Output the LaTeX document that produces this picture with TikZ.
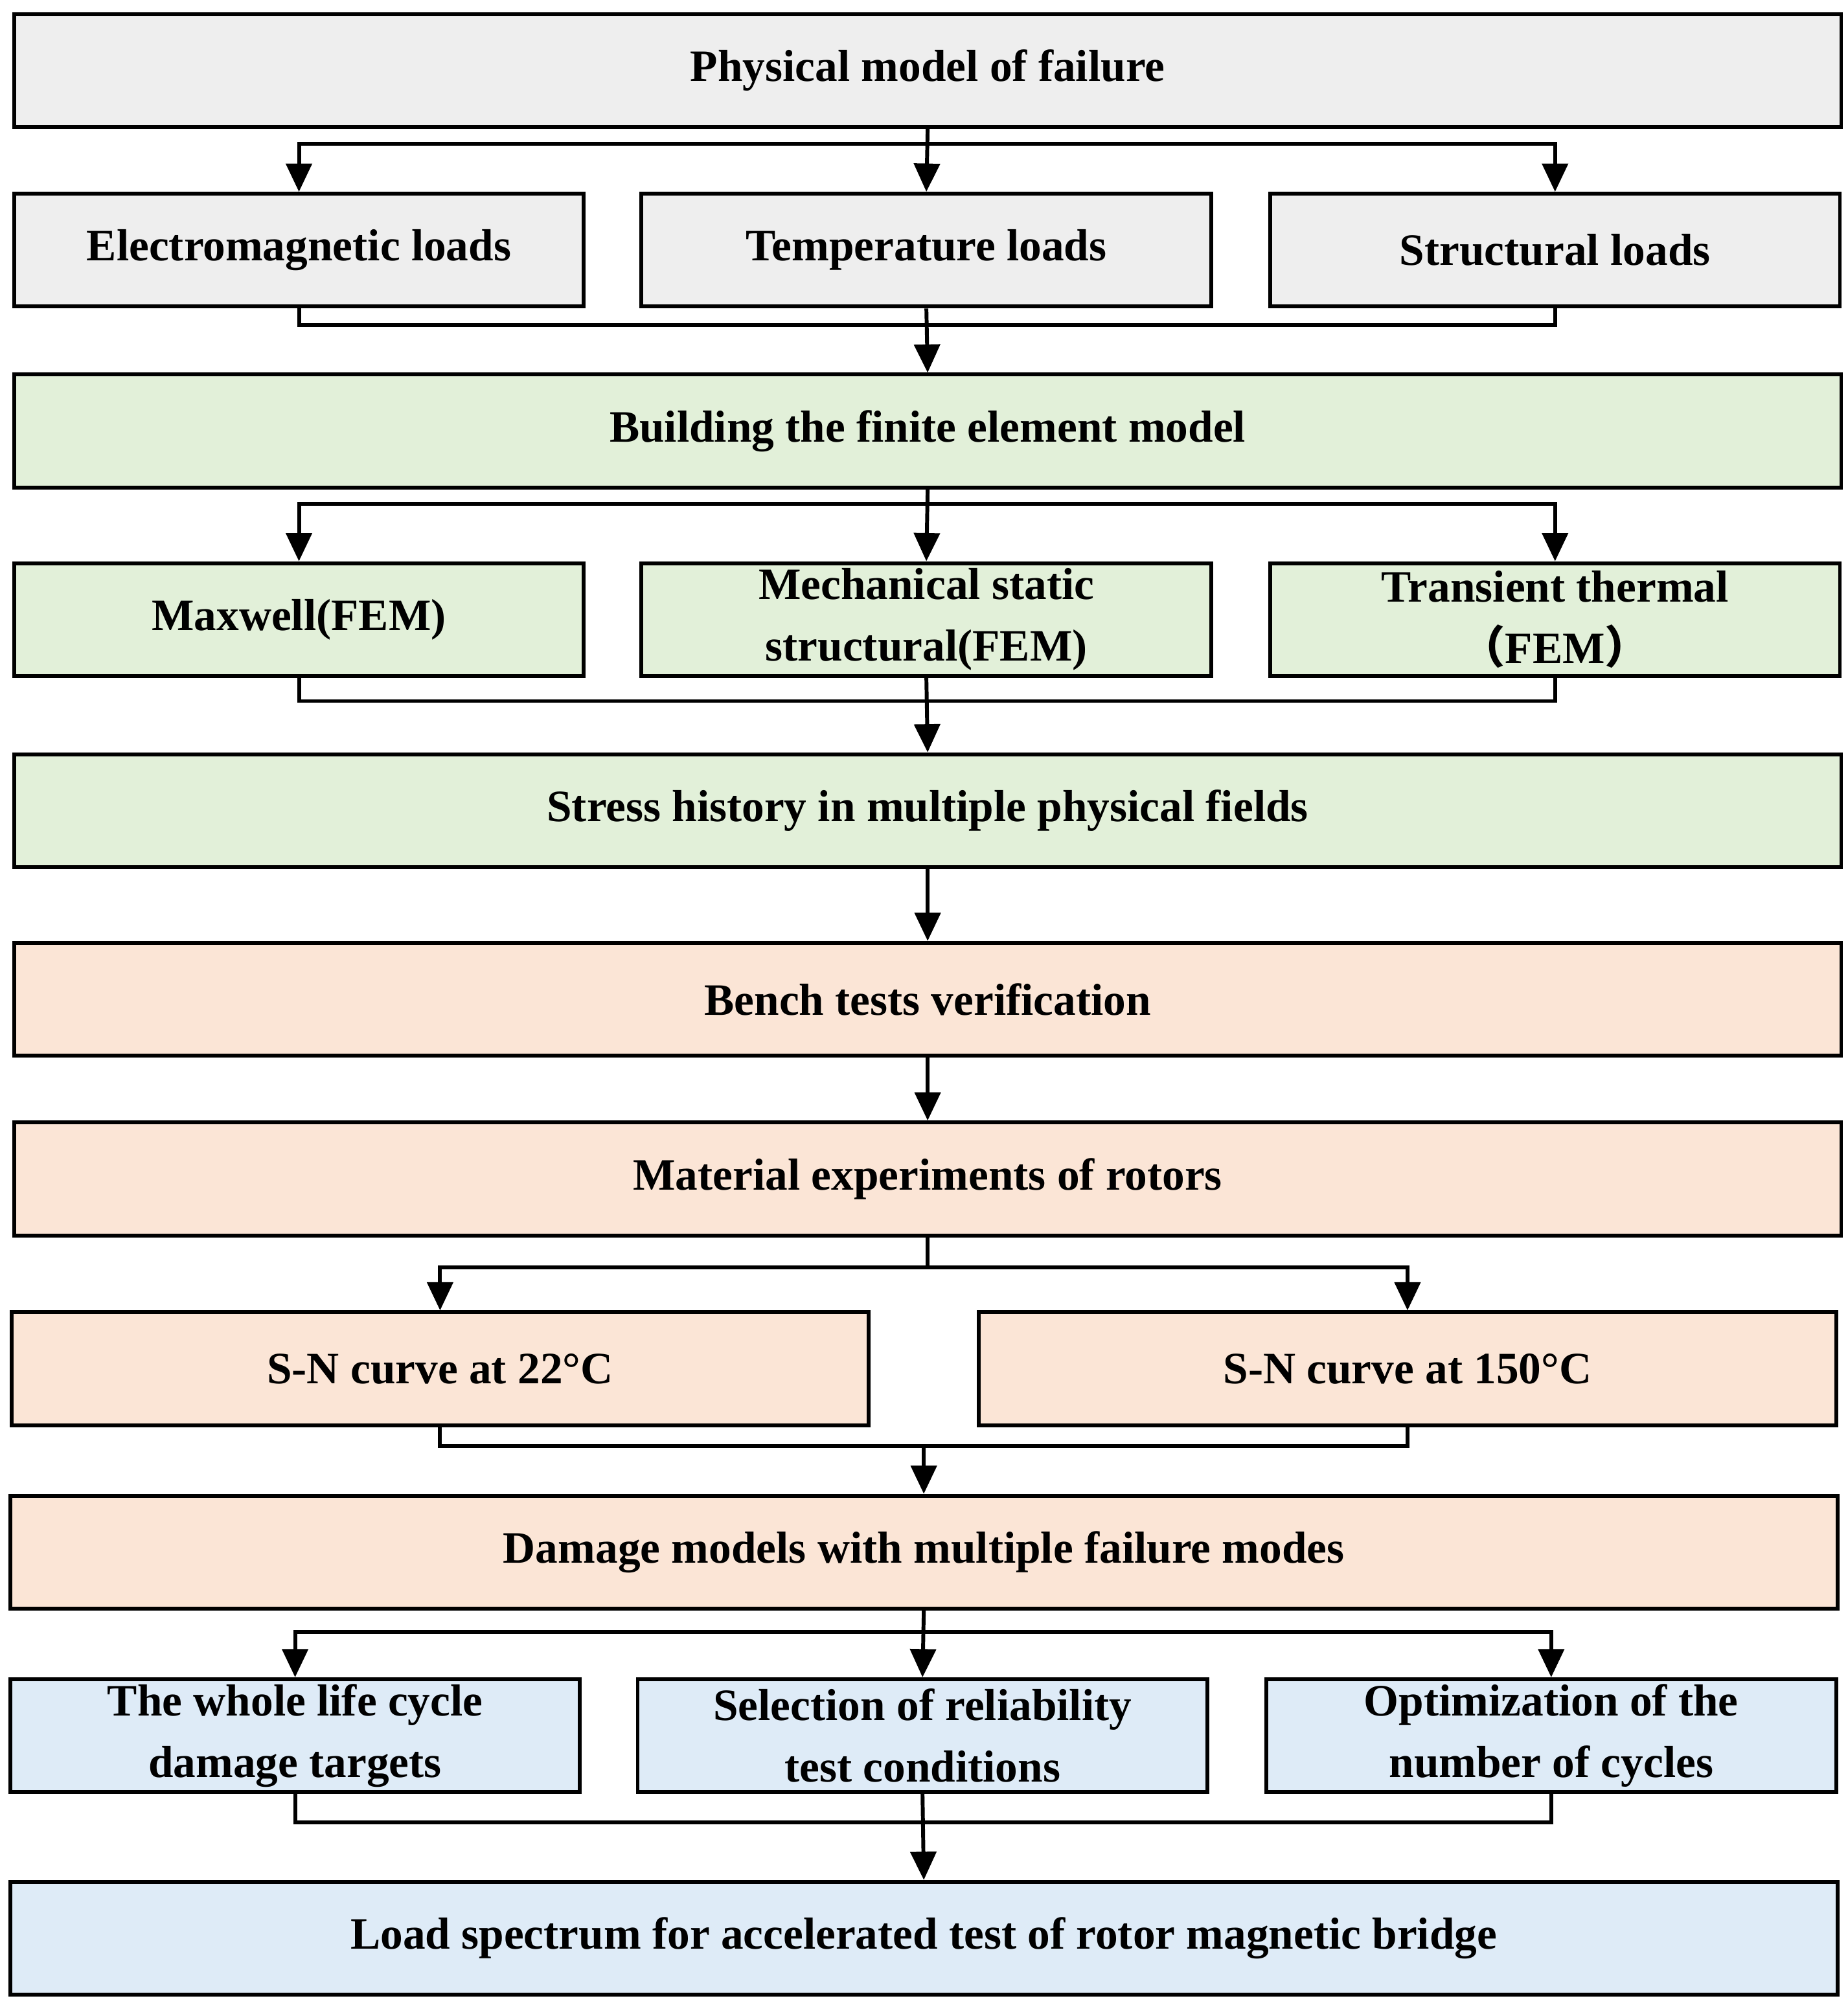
\documentclass[tikz,border=0pt]{standalone}
\usepackage{fontspec}
\setmainfont{Liberation Serif}
\newfontfamily\cjk{Noto Sans CJK SC}
\usetikzlibrary{arrows.meta}
\definecolor{cgray}{HTML}{EEEEEE}
\definecolor{cgreen}{HTML}{E2F0D9}
\definecolor{cpeach}{HTML}{FBE5D6}
\definecolor{cblue}{HTML}{DEEBF7}
\begin{document}
\begin{tikzpicture}[x=1pt,y=-1pt,
  box/.style={draw, line width=3pt, minimum height=88pt, inner sep=0pt, align=center,
    font=\fontsize{35}{48}\selectfont\bfseries},
  wide/.style={box, minimum width=1424pt},
  third/.style={box, minimum width=444pt},
  half/.style={box, minimum width=668pt},
  ln/.style={line width=3pt},
  arr/.style={line width=3pt, -{Triangle[width=20pt,length=22pt]}}]
\useasboundingbox (0,0) rectangle (1440,1563);
\node[wide, fill=cgray] (phys) at (723,55) {Physical model of failure};
\node[third, fill=cgray] (em) at (233,195) {Electromagnetic loads};
\node[third, fill=cgray] (temp) at (722,195) {Temperature loads};
\node[third, fill=cgray] (str) at (1212,195) {Structural loads};
\node[wide, fill=cgreen] (build) at (723,336) {Building the finite element model};
\node[third, fill=cgreen] (max) at (233,483) {Maxwell(FEM)};
\node[third, fill=cgreen] (mech) at (722,483) {Mechanical static\\structural(FEM)};
\node[third, fill=cgreen] (trans) at (1212,483) {Transient thermal\\{\cjk （}FEM{\cjk ）}};
\node[wide, fill=cgreen] (stress) at (723,632) {Stress history in multiple physical fields};
\node[wide, fill=cpeach] (bench) at (723,779) {Bench tests verification};
\node[wide, fill=cpeach] (mat) at (723,919) {Material experiments of rotors};
\node[half, fill=cpeach] (sn1) at (343,1067) {S-N curve at 22°C};
\node[half, fill=cpeach] (sn2) at (1097,1067) {S-N curve at 150°C};
\node[wide, fill=cpeach, minimum width=1424pt] (dam) at (720,1210) {Damage models with multiple failure modes};
\node[third, fill=cblue] (whole) at (230,1353) {The whole life cycle\\damage targets};
\node[third, fill=cblue] (sel) at (719,1353) {Selection of reliability\\test conditions};
\node[third, fill=cblue] (opt) at (1209,1353) {Optimization of the\\number of cycles};
\node[wide, fill=cblue] (load) at (720,1511) {Load spectrum for accelerated test of rotor magnetic bridge};
% splits and merges
\coordinate (s1) at (723,112);
\draw[arr] (phys.south) -- (temp.north);
\draw[arr] (s1) -| (em.north);
\draw[arr] (s1) -| (str.north);
\draw[ln] (em.south) -- ++(0,13) -| (str.south);
\draw[arr] (temp.south) -- (build.north);
\coordinate (s2) at (723,393);
\draw[arr] (build.south) -- (mech.north);
\draw[arr] (s2) -| (max.north);
\draw[arr] (s2) -| (trans.north);
\draw[ln] (max.south) -- ++(0,18) -| (trans.south);
\draw[arr] (mech.south) -- (stress.north);
\draw[arr] (stress.south) -- (bench.north);
\draw[arr] (bench.south) -- (mat.north);
\coordinate (s3) at (723,988);
\draw[ln] (mat.south) -- (s3);
\draw[arr] (s3) -| (sn1.north);
\draw[arr] (s3) -| (sn2.north);
\draw[ln] (sn1.south) -- ++(0,15) -| (sn2.south);
\draw[arr] (720,1127) -- (dam.north);
\coordinate (s4) at (720,1272);
\draw[arr] (dam.south) -- (sel.north);
\draw[arr] (s4) -| (whole.north);
\draw[arr] (s4) -| (opt.north);
\draw[ln] (whole.south) -- ++(0,22) -| (opt.south);
\draw[arr] (sel.south) -- (load.north);
\end{tikzpicture}
\end{document}
